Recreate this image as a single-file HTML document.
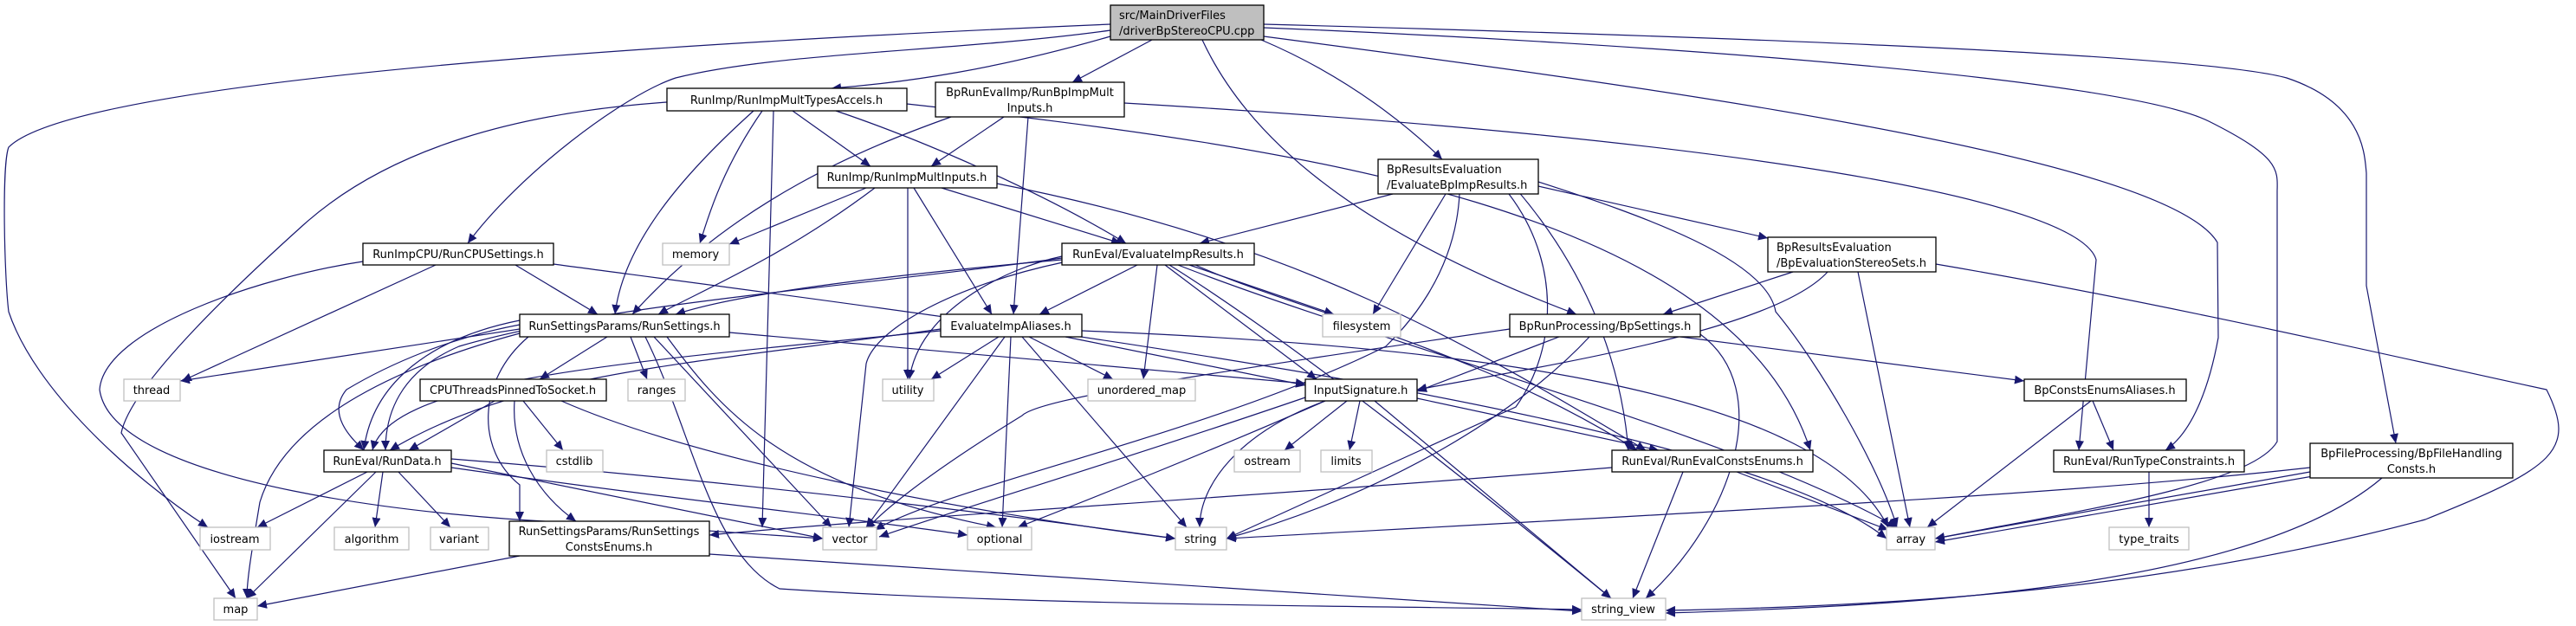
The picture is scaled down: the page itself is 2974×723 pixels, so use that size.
<!DOCTYPE html>
<html><head><meta charset="utf-8"><style>
html,body{margin:0;padding:0;background:#fff;}
svg{display:block;}
text{font-family:"DejaVu Sans","Liberation Sans",sans-serif;font-size:13px;fill:#000;}
.e{fill:none;stroke:#191970;stroke-width:1.2;marker-end:url(#a);}
.n{fill:#fff;stroke:#000;stroke-width:1.3;}
.g{fill:#fff;stroke:#bfbfbf;stroke-width:1.3;}
</style></head><body>
<svg width="2974" height="723" viewBox="0 0 2974 723" xmlns="http://www.w3.org/2000/svg">
<defs><marker id="a" markerUnits="userSpaceOnUse" markerWidth="12" markerHeight="10" refX="11" refY="5" orient="auto"><path d="M0,0 L11,5 L0,10 z" fill="#191970"/></marker></defs>
<g>
<path class="e" d="M1282,28 C1000,40 100,80 10,170 C2,190 5,320 10,360 C40,450 150,550 240,609"/>
<path class="e" d="M1282,35 C1100,60 900,60 780,90 C720,110 600,200 540,281"/>
<path class="e" d="M1282,42 C1150,80 1050,95 960,102"/>
<path class="e" d="M1330,46 L1238,95"/>
<path class="e" d="M1388,46 C1450,180 1600,280 1820,363"/>
<path class="e" d="M1456,46 C1560,90 1630,150 1665,184"/>
<path class="e" d="M1459,28 C1900,40 2530,60 2640,90 C2730,120 2730,180 2732,200 L2732,330 L2766,512"/>
<path class="e" d="M1459,32 C1900,50 2450,90 2550,140 C2630,180 2630,195 2629,220 L2629,510 C2600,560 2400,590 2234,622"/>
<path class="e" d="M1459,42 C1900,100 2500,180 2560,280 L2561,390 C2550,450 2530,500 2500,520"/>
<path class="e" d="M770,118 C600,130 450,170 350,260 C250,350 150,450 140,500 L272,691"/>
<path class="e" d="M870,128 C790,200 720,280 710,363"/>
<path class="e" d="M880,128 C830,200 815,260 808,281"/>
<path class="e" d="M893,128 L880,609"/>
<path class="e" d="M915,128 L1005,192"/>
<path class="e" d="M965,128 C1060,160 1200,220 1300,281"/>
<path class="e" d="M1047,120 C1500,170 2000,240 2090,520"/>
<path class="e" d="M1098,135 C1000,170 850,230 730,363"/>
<path class="e" d="M1159,135 L1075,192"/>
<path class="e" d="M1187,135 L1170,363"/>
<path class="e" d="M1298,119 C2000,160 2400,230 2420,300 L2400,520"/>
<path class="e" d="M595,306 L690,363"/>
<path class="e" d="M503,306 L210,440"/>
<path class="e" d="M419,302 C300,320 120,380 115,450 C130,560 500,600 700,605 L950,622"/>
<path class="e" d="M639,305 C1200,380 2000,480 2178,622"/>
<path class="e" d="M1000,217 L842,282"/>
<path class="e" d="M1010,217 C900,300 800,340 760,363"/>
<path class="e" d="M1087,217 L1294,281"/>
<path class="e" d="M1055,217 L1145,363"/>
<path class="e" d="M1048,217 L1048,438"/>
<path class="e" d="M1151,212 C1500,280 1700,400 1900,520"/>
<path class="e" d="M1608,224 L1385,281"/>
<path class="e" d="M1669,224 L1585,363"/>
<path class="e" d="M1685,224 C1680,320 1620,380 1600,400 C1400,500 1100,560 1010,612"/>
<path class="e" d="M1742,224 C1800,300 1800,400 1750,470 L1416,622"/>
<path class="e" d="M1752,220 C1820,300 1870,400 1880,520"/>
<path class="e" d="M1776,215 L2041,275"/>
<path class="e" d="M1776,210 C1900,250 2040,300 2050,360 C2100,420 2170,540 2190,609"/>
<path class="e" d="M1226,300 C1000,320 850,340 780,363"/>
<path class="e" d="M1313,306 L1200,363"/>
<path class="e" d="M1226,296 C1160,310 1060,360 1050,438"/>
<path class="e" d="M1336,306 L1320,438"/>
<path class="e" d="M1345,306 L1520,438"/>
<path class="e" d="M1226,298 C1000,330 700,350 530,400 C460,430 445,480 445,520"/>
<path class="e" d="M1373,306 L1540,363"/>
<path class="e" d="M1227,303 C1100,330 1010,380 1000,420 L980,609"/>
<path class="e" d="M1350,306 C1500,400 1700,560 1860,691"/>
<path class="e" d="M1360,306 C1600,400 2000,500 2190,609"/>
<path class="e" d="M1380,306 C1500,360 1700,400 1890,520"/>
<path class="e" d="M2070,314 L1920,363"/>
<path class="e" d="M2110,314 C2050,380 1800,420 1636,450"/>
<path class="e" d="M2145,314 L2205,609"/>
<path class="e" d="M2235,305 C2500,350 2800,420 2940,450 C2975,520 2950,540 2800,600 C2500,680 2200,700 1923,705"/>
<path class="e" d="M701,389 L623,438"/>
<path class="e" d="M728,389 L747,438"/>
<path class="e" d="M600,380 L208,440"/>
<path class="e" d="M600,375 C520,390 450,420 400,450 C375,480 410,510 420,520"/>
<path class="e" d="M600,385 C470,420 330,480 300,580 C290,640 285,670 285,691"/>
<path class="e" d="M842,384 L1507,443"/>
<path class="e" d="M770,389 C830,470 900,560 1150,609"/>
<path class="e" d="M745,389 C800,500 820,640 900,680 C1200,700 1600,700 1826,704"/>
<path class="e" d="M755,389 L960,609"/>
<path class="e" d="M600,370 C500,390 430,440 420,520"/>
<path class="e" d="M610,389 C550,440 550,520 600,560 L600,602"/>
<path class="e" d="M1153,389 L1075,438"/>
<path class="e" d="M1188,389 L1285,438"/>
<path class="e" d="M1230,389 L1507,445"/>
<path class="e" d="M1167,389 L1157,609"/>
<path class="e" d="M1180,389 L1370,609"/>
<path class="e" d="M1160,389 L1000,609"/>
<path class="e" d="M1086,380 C800,420 600,430 450,520"/>
<path class="e" d="M1086,382 C700,420 450,440 430,520"/>
<path class="e" d="M1249,382 C1700,400 2100,450 2180,609"/>
<path class="e" d="M1800,389 L1636,452"/>
<path class="e" d="M1940,389 L2337,440"/>
<path class="e" d="M1835,389 C1750,480 1600,570 1416,622"/>
<path class="e" d="M1743,380 C1400,430 1200,460 1180,480 C1050,560 1010,600 1000,612"/>
<path class="e" d="M1963,386 C2050,450 2000,600 1900,691"/>
<path class="e" d="M571,463 L472,520"/>
<path class="e" d="M604,463 L650,520"/>
<path class="e" d="M594,463 C590,520 620,570 665,602"/>
<path class="e" d="M648,463 C800,530 1100,590 1357,622"/>
<path class="e" d="M424,545 L297,609"/>
<path class="e" d="M434,545 L285,691"/>
<path class="e" d="M442,545 L433,609"/>
<path class="e" d="M460,545 L520,609"/>
<path class="e" d="M521,535 L950,622"/>
<path class="e" d="M521,540 C800,580 1000,600 1117,618"/>
<path class="e" d="M521,530 C900,560 1200,600 1357,622"/>
<path class="e" d="M1555,463 L1483,520"/>
<path class="e" d="M1570,463 L1558,520"/>
<path class="e" d="M1530,463 C1430,500 1385,560 1385,609"/>
<path class="e" d="M1530,463 C1400,520 1250,580 1175,609"/>
<path class="e" d="M1636,460 L1915,520"/>
<path class="e" d="M1587,463 L1860,691"/>
<path class="e" d="M1510,458 C1300,530 1100,590 1015,620"/>
<path class="e" d="M1861,540 C1500,570 1000,600 819,618"/>
<path class="e" d="M2005,545 L2180,612"/>
<path class="e" d="M1943,545 L1885,691"/>
<path class="e" d="M600,642 L297,700"/>
<path class="e" d="M819,640 L1826,706"/>
<path class="e" d="M2416,463 L2440,520"/>
<path class="e" d="M2414,463 L2225,609"/>
<path class="e" d="M2481,545 L2481,609"/>
<path class="e" d="M2667,540 C2400,570 2000,590 1416,622"/>
<path class="e" d="M2667,545 L2234,622"/>
<path class="e" d="M2670,550 L2234,626"/>
<path class="e" d="M2750,552 C2600,680 2200,700 1923,708"/>
</g>
<rect x="1282" y="6" width="177" height="40" fill="#bfbfbf" stroke="#000" stroke-width="1.3"/>
<text x="1292" y="22">src/MainDriverFiles</text><text x="1292" y="40">/driverBpStereoCPU.cpp</text>
<rect class="n" x="770" y="102" width="277" height="26"/><text x="908" y="120" text-anchor="middle">RunImp/RunImpMultTypesAccels.h</text>
<rect class="n" x="1080" y="95" width="218" height="40"/><text x="1189" y="111" text-anchor="middle">BpRunEvalImp/RunBpImpMult</text><text x="1189" y="129" text-anchor="middle">Inputs.h</text>
<rect class="n" x="419" y="281" width="220" height="25"/><text x="529" y="298" text-anchor="middle">RunImpCPU/RunCPUSettings.h</text>
<rect class="g" x="765" y="281" width="77" height="25"/><text x="803" y="298" text-anchor="middle">memory</text>
<rect class="n" x="944" y="192" width="207" height="25"/><text x="1047" y="209" text-anchor="middle">RunImp/RunImpMultInputs.h</text>
<rect class="n" x="1591" y="184" width="185" height="40"/><text x="1601" y="200">BpResultsEvaluation</text><text x="1601" y="218">/EvaluateBpImpResults.h</text>
<rect class="n" x="1226" y="281" width="222" height="25"/><text x="1337" y="298" text-anchor="middle">RunEval/EvaluateImpResults.h</text>
<rect class="n" x="2041" y="274" width="194" height="40"/><text x="2051" y="290">BpResultsEvaluation</text><text x="2051" y="308">/BpEvaluationStereoSets.h</text>
<rect class="n" x="600" y="363" width="242" height="26"/><text x="721" y="381" text-anchor="middle">RunSettingsParams/RunSettings.h</text>
<rect class="g" x="143" y="438" width="65" height="25"/><text x="175" y="455" text-anchor="middle">thread</text>
<rect class="n" x="485" y="438" width="215" height="25"/><text x="592" y="455" text-anchor="middle">CPUThreadsPinnedToSocket.h</text>
<rect class="g" x="725" y="438" width="66" height="25"/><text x="758" y="455" text-anchor="middle">ranges</text>
<rect class="n" x="374" y="520" width="147" height="25"/><text x="447" y="537" text-anchor="middle">RunEval/RunData.h</text>
<rect class="g" x="631" y="520" width="65" height="25"/><text x="663" y="537" text-anchor="middle">cstdlib</text>
<rect class="g" x="231" y="609" width="81" height="26"/><text x="271" y="627" text-anchor="middle">iostream</text>
<rect class="g" x="386" y="609" width="86" height="26"/><text x="429" y="627" text-anchor="middle">algorithm</text>
<rect class="g" x="497" y="609" width="67" height="26"/><text x="530" y="627" text-anchor="middle">variant</text>
<rect class="n" x="588" y="602" width="231" height="40"/><text x="703" y="618" text-anchor="middle">RunSettingsParams/RunSettings</text><text x="703" y="636" text-anchor="middle">ConstsEnums.h</text>
<rect class="g" x="950" y="609" width="62" height="26"/><text x="981" y="627" text-anchor="middle">vector</text>
<rect class="g" x="247" y="691" width="50" height="25"/><text x="272" y="708" text-anchor="middle">map</text>
<rect class="n" x="1086" y="363" width="163" height="26"/><text x="1167" y="381" text-anchor="middle">EvaluateImpAliases.h</text>
<rect class="g" x="1527" y="363" width="90" height="26"/><text x="1572" y="381" text-anchor="middle">filesystem</text>
<rect class="n" x="1743" y="363" width="220" height="26"/><text x="1853" y="381" text-anchor="middle">BpRunProcessing/BpSettings.h</text>
<rect class="g" x="1019" y="438" width="59" height="25"/><text x="1048" y="455" text-anchor="middle">utility</text>
<rect class="g" x="1256" y="438" width="124" height="25"/><text x="1318" y="455" text-anchor="middle">unordered_map</text>
<rect class="n" x="1507" y="438" width="129" height="25"/><text x="1571" y="455" text-anchor="middle">InputSignature.h</text>
<rect class="g" x="1425" y="520" width="76" height="25"/><text x="1463" y="537" text-anchor="middle">ostream</text>
<rect class="g" x="1525" y="520" width="59" height="25"/><text x="1554" y="537" text-anchor="middle">limits</text>
<rect class="n" x="1861" y="520" width="232" height="25"/><text x="1977" y="537" text-anchor="middle">RunEval/RunEvalConstsEnums.h</text>
<rect class="g" x="1117" y="609" width="74" height="26"/><text x="1154" y="627" text-anchor="middle">optional</text>
<rect class="g" x="1357" y="609" width="59" height="26"/><text x="1386" y="627" text-anchor="middle">string</text>
<rect class="g" x="1826" y="691" width="97" height="25"/><text x="1874" y="708" text-anchor="middle">string_view</text>
<rect class="n" x="2337" y="438" width="187" height="25"/><text x="2430" y="455" text-anchor="middle">BpConstsEnumsAliases.h</text>
<rect class="n" x="2371" y="520" width="220" height="25"/><text x="2481" y="537" text-anchor="middle">RunEval/RunTypeConstraints.h</text>
<rect class="n" x="2667" y="512" width="234" height="40"/><text x="2784" y="528" text-anchor="middle">BpFileProcessing/BpFileHandling</text><text x="2784" y="546" text-anchor="middle">Consts.h</text>
<rect class="g" x="2178" y="609" width="56" height="26"/><text x="2206" y="627" text-anchor="middle">array</text>
<rect class="g" x="2435" y="609" width="92" height="26"/><text x="2481" y="627" text-anchor="middle">type_traits</text>
</svg>
</body></html>
